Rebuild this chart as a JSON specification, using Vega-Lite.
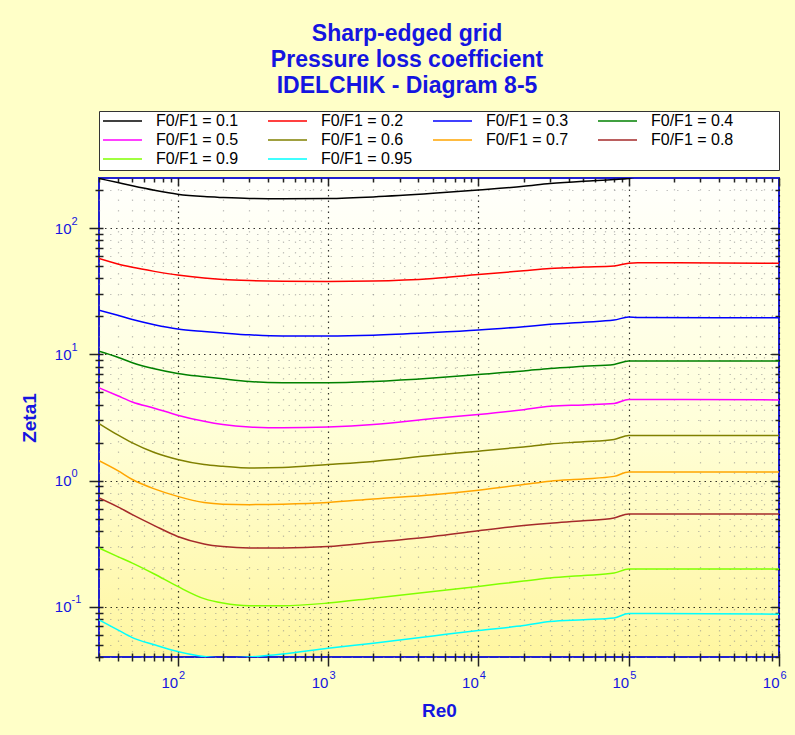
{
  "$schema": "https://vega.github.io/schema/vega-lite/v6.json",
  "width": 680,
  "height": 479,
  "autosize": {"type": "none"},
  "padding": {"left": 99, "top": 178, "right": 16, "bottom": 78},
  "background": "#FFFFC8",
  "title": {
    "text": ["Sharp-edged grid", "Pressure loss coefficient", "IDELCHIK - Diagram 8-5"],
    "font": "Liberation Sans", "fontSize": 23, "fontWeight": "bold", "color": "#1515E0",
    "anchor": "middle", "frame": "group", "dx": -32, "offset": 13, "lineHeight": 26
  },
  "data": {"values": [
    {"r":"F0/F1 = 0.1","Re":30,"z":248},{"r":"F0/F1 = 0.1","Re":40,"z":230},{"r":"F0/F1 = 0.1","Re":50,"z":217},{"r":"F0/F1 = 0.1","Re":70,"z":200},{"r":"F0/F1 = 0.1","Re":100,"z":186},{"r":"F0/F1 = 0.1","Re":150,"z":178},{"r":"F0/F1 = 0.1","Re":200,"z":175},{"r":"F0/F1 = 0.1","Re":300,"z":172},{"r":"F0/F1 = 0.1","Re":500,"z":171},{"r":"F0/F1 = 0.1","Re":1000,"z":172},{"r":"F0/F1 = 0.1","Re":2000,"z":177},{"r":"F0/F1 = 0.1","Re":5000,"z":189},{"r":"F0/F1 = 0.1","Re":10000,"z":201},{"r":"F0/F1 = 0.1","Re":20000,"z":215},{"r":"F0/F1 = 0.1","Re":30000,"z":226},{"r":"F0/F1 = 0.1","Re":50000,"z":236},{"r":"F0/F1 = 0.1","Re":80000,"z":243},{"r":"F0/F1 = 0.1","Re":100000,"z":248},{"r":"F0/F1 = 0.1","Re":115000,"z":256},{"r":"F0/F1 = 0.1","Re":1000000,"z":256},
    {"r":"F0/F1 = 0.2","Re":30,"z":57.5},{"r":"F0/F1 = 0.2","Re":40,"z":52},{"r":"F0/F1 = 0.2","Re":50,"z":49},{"r":"F0/F1 = 0.2","Re":70,"z":45.5},{"r":"F0/F1 = 0.2","Re":100,"z":42.5},{"r":"F0/F1 = 0.2","Re":150,"z":40.3},{"r":"F0/F1 = 0.2","Re":200,"z":39.3},{"r":"F0/F1 = 0.2","Re":300,"z":38.5},{"r":"F0/F1 = 0.2","Re":500,"z":38.0},{"r":"F0/F1 = 0.2","Re":1000,"z":37.8},{"r":"F0/F1 = 0.2","Re":2000,"z":38.1},{"r":"F0/F1 = 0.2","Re":5000,"z":39.9},{"r":"F0/F1 = 0.2","Re":10000,"z":42.9},{"r":"F0/F1 = 0.2","Re":20000,"z":46},{"r":"F0/F1 = 0.2","Re":30000,"z":47.9},{"r":"F0/F1 = 0.2","Re":50000,"z":49.2},{"r":"F0/F1 = 0.2","Re":80000,"z":50.2},{"r":"F0/F1 = 0.2","Re":100000,"z":52.8},{"r":"F0/F1 = 0.2","Re":115000,"z":53.3},{"r":"F0/F1 = 0.2","Re":1000000,"z":52.8},
    {"r":"F0/F1 = 0.3","Re":30,"z":22.4},{"r":"F0/F1 = 0.3","Re":40,"z":20.4},{"r":"F0/F1 = 0.3","Re":50,"z":18.9},{"r":"F0/F1 = 0.3","Re":70,"z":17.2},{"r":"F0/F1 = 0.3","Re":100,"z":15.9},{"r":"F0/F1 = 0.3","Re":150,"z":15.2},{"r":"F0/F1 = 0.3","Re":200,"z":14.8},{"r":"F0/F1 = 0.3","Re":300,"z":14.3},{"r":"F0/F1 = 0.3","Re":500,"z":14.0},{"r":"F0/F1 = 0.3","Re":1000,"z":14.0},{"r":"F0/F1 = 0.3","Re":2000,"z":14.2},{"r":"F0/F1 = 0.3","Re":5000,"z":14.9},{"r":"F0/F1 = 0.3","Re":10000,"z":15.6},{"r":"F0/F1 = 0.3","Re":20000,"z":16.6},{"r":"F0/F1 = 0.3","Re":30000,"z":17.3},{"r":"F0/F1 = 0.3","Re":50000,"z":18.0},{"r":"F0/F1 = 0.3","Re":80000,"z":18.7},{"r":"F0/F1 = 0.3","Re":100000,"z":19.8},{"r":"F0/F1 = 0.3","Re":115000,"z":19.6},{"r":"F0/F1 = 0.3","Re":1000000,"z":19.5},
    {"r":"F0/F1 = 0.4","Re":30,"z":10.6},{"r":"F0/F1 = 0.4","Re":40,"z":9.5},{"r":"F0/F1 = 0.4","Re":50,"z":8.6},{"r":"F0/F1 = 0.4","Re":70,"z":7.7},{"r":"F0/F1 = 0.4","Re":100,"z":7.07},{"r":"F0/F1 = 0.4","Re":150,"z":6.65},{"r":"F0/F1 = 0.4","Re":200,"z":6.4},{"r":"F0/F1 = 0.4","Re":300,"z":6.1},{"r":"F0/F1 = 0.4","Re":500,"z":5.97},{"r":"F0/F1 = 0.4","Re":1000,"z":5.96},{"r":"F0/F1 = 0.4","Re":2000,"z":6.1},{"r":"F0/F1 = 0.4","Re":5000,"z":6.5},{"r":"F0/F1 = 0.4","Re":10000,"z":6.94},{"r":"F0/F1 = 0.4","Re":20000,"z":7.4},{"r":"F0/F1 = 0.4","Re":30000,"z":7.74},{"r":"F0/F1 = 0.4","Re":50000,"z":8.05},{"r":"F0/F1 = 0.4","Re":80000,"z":8.33},{"r":"F0/F1 = 0.4","Re":100000,"z":8.85},{"r":"F0/F1 = 0.4","Re":1000000,"z":8.85},
    {"r":"F0/F1 = 0.5","Re":30,"z":5.44},{"r":"F0/F1 = 0.5","Re":40,"z":4.7},{"r":"F0/F1 = 0.5","Re":50,"z":4.2},{"r":"F0/F1 = 0.5","Re":70,"z":3.75},{"r":"F0/F1 = 0.5","Re":100,"z":3.3},{"r":"F0/F1 = 0.5","Re":150,"z":2.95},{"r":"F0/F1 = 0.5","Re":200,"z":2.78},{"r":"F0/F1 = 0.5","Re":300,"z":2.66},{"r":"F0/F1 = 0.5","Re":500,"z":2.62},{"r":"F0/F1 = 0.5","Re":1000,"z":2.66},{"r":"F0/F1 = 0.5","Re":2000,"z":2.78},{"r":"F0/F1 = 0.5","Re":5000,"z":3.1},{"r":"F0/F1 = 0.5","Re":10000,"z":3.34},{"r":"F0/F1 = 0.5","Re":20000,"z":3.65},{"r":"F0/F1 = 0.5","Re":30000,"z":3.89},{"r":"F0/F1 = 0.5","Re":50000,"z":3.98},{"r":"F0/F1 = 0.5","Re":80000,"z":4.08},{"r":"F0/F1 = 0.5","Re":100000,"z":4.39},{"r":"F0/F1 = 0.5","Re":1000000,"z":4.36},
    {"r":"F0/F1 = 0.6","Re":30,"z":2.83},{"r":"F0/F1 = 0.6","Re":40,"z":2.3},{"r":"F0/F1 = 0.6","Re":50,"z":1.99},{"r":"F0/F1 = 0.6","Re":70,"z":1.67},{"r":"F0/F1 = 0.6","Re":100,"z":1.47},{"r":"F0/F1 = 0.6","Re":150,"z":1.34},{"r":"F0/F1 = 0.6","Re":200,"z":1.3},{"r":"F0/F1 = 0.6","Re":300,"z":1.26},{"r":"F0/F1 = 0.6","Re":500,"z":1.27},{"r":"F0/F1 = 0.6","Re":1000,"z":1.34},{"r":"F0/F1 = 0.6","Re":2000,"z":1.42},{"r":"F0/F1 = 0.6","Re":5000,"z":1.59},{"r":"F0/F1 = 0.6","Re":10000,"z":1.71},{"r":"F0/F1 = 0.6","Re":20000,"z":1.85},{"r":"F0/F1 = 0.6","Re":30000,"z":1.95},{"r":"F0/F1 = 0.6","Re":50000,"z":2.03},{"r":"F0/F1 = 0.6","Re":80000,"z":2.12},{"r":"F0/F1 = 0.6","Re":100000,"z":2.28},{"r":"F0/F1 = 0.6","Re":1000000,"z":2.28},
    {"r":"F0/F1 = 0.7","Re":30,"z":1.44},{"r":"F0/F1 = 0.7","Re":40,"z":1.2},{"r":"F0/F1 = 0.7","Re":50,"z":1.02},{"r":"F0/F1 = 0.7","Re":70,"z":0.86},{"r":"F0/F1 = 0.7","Re":100,"z":0.75},{"r":"F0/F1 = 0.7","Re":150,"z":0.67},{"r":"F0/F1 = 0.7","Re":200,"z":0.65},{"r":"F0/F1 = 0.7","Re":300,"z":0.645},{"r":"F0/F1 = 0.7","Re":500,"z":0.65},{"r":"F0/F1 = 0.7","Re":1000,"z":0.67},{"r":"F0/F1 = 0.7","Re":2000,"z":0.716},{"r":"F0/F1 = 0.7","Re":5000,"z":0.774},{"r":"F0/F1 = 0.7","Re":10000,"z":0.84},{"r":"F0/F1 = 0.7","Re":20000,"z":0.93},{"r":"F0/F1 = 0.7","Re":30000,"z":0.99},{"r":"F0/F1 = 0.7","Re":50000,"z":1.03},{"r":"F0/F1 = 0.7","Re":80000,"z":1.08},{"r":"F0/F1 = 0.7","Re":100000,"z":1.17},{"r":"F0/F1 = 0.7","Re":1000000,"z":1.17},
    {"r":"F0/F1 = 0.8","Re":30,"z":0.73},{"r":"F0/F1 = 0.8","Re":40,"z":0.62},{"r":"F0/F1 = 0.8","Re":50,"z":0.537},{"r":"F0/F1 = 0.8","Re":70,"z":0.44},{"r":"F0/F1 = 0.8","Re":100,"z":0.361},{"r":"F0/F1 = 0.8","Re":150,"z":0.315},{"r":"F0/F1 = 0.8","Re":200,"z":0.30},{"r":"F0/F1 = 0.8","Re":300,"z":0.292},{"r":"F0/F1 = 0.8","Re":500,"z":0.292},{"r":"F0/F1 = 0.8","Re":1000,"z":0.30},{"r":"F0/F1 = 0.8","Re":2000,"z":0.324},{"r":"F0/F1 = 0.8","Re":5000,"z":0.361},{"r":"F0/F1 = 0.8","Re":10000,"z":0.40},{"r":"F0/F1 = 0.8","Re":20000,"z":0.44},{"r":"F0/F1 = 0.8","Re":30000,"z":0.46},{"r":"F0/F1 = 0.8","Re":50000,"z":0.48},{"r":"F0/F1 = 0.8","Re":80000,"z":0.506},{"r":"F0/F1 = 0.8","Re":100000,"z":0.544},{"r":"F0/F1 = 0.8","Re":1000000,"z":0.544},
    {"r":"F0/F1 = 0.9","Re":30,"z":0.292},{"r":"F0/F1 = 0.9","Re":40,"z":0.25},{"r":"F0/F1 = 0.9","Re":50,"z":0.222},{"r":"F0/F1 = 0.9","Re":70,"z":0.182},{"r":"F0/F1 = 0.9","Re":100,"z":0.145},{"r":"F0/F1 = 0.9","Re":150,"z":0.116},{"r":"F0/F1 = 0.9","Re":200,"z":0.107},{"r":"F0/F1 = 0.9","Re":300,"z":0.102},{"r":"F0/F1 = 0.9","Re":500,"z":0.102},{"r":"F0/F1 = 0.9","Re":1000,"z":0.107},{"r":"F0/F1 = 0.9","Re":2000,"z":0.117},{"r":"F0/F1 = 0.9","Re":5000,"z":0.132},{"r":"F0/F1 = 0.9","Re":10000,"z":0.145},{"r":"F0/F1 = 0.9","Re":20000,"z":0.16},{"r":"F0/F1 = 0.9","Re":30000,"z":0.169},{"r":"F0/F1 = 0.9","Re":50000,"z":0.177},{"r":"F0/F1 = 0.9","Re":80000,"z":0.185},{"r":"F0/F1 = 0.9","Re":100000,"z":0.199},{"r":"F0/F1 = 0.9","Re":1000000,"z":0.199},
    {"r":"F0/F1 = 0.95","Re":30,"z":0.0788},{"r":"F0/F1 = 0.95","Re":40,"z":0.0656},{"r":"F0/F1 = 0.95","Re":50,"z":0.0570},{"r":"F0/F1 = 0.95","Re":70,"z":0.0500},{"r":"F0/F1 = 0.95","Re":100,"z":0.0442},{"r":"F0/F1 = 0.95","Re":150,"z":0.0403},{"r":"F0/F1 = 0.95","Re":200,"z":0.0393},{"r":"F0/F1 = 0.95","Re":300,"z":0.0400},{"r":"F0/F1 = 0.95","Re":500,"z":0.0423},{"r":"F0/F1 = 0.95","Re":1000,"z":0.047},{"r":"F0/F1 = 0.95","Re":2000,"z":0.0515},{"r":"F0/F1 = 0.95","Re":5000,"z":0.0588},{"r":"F0/F1 = 0.95","Re":10000,"z":0.0649},{"r":"F0/F1 = 0.95","Re":20000,"z":0.071},{"r":"F0/F1 = 0.95","Re":30000,"z":0.0764},{"r":"F0/F1 = 0.95","Re":50000,"z":0.079},{"r":"F0/F1 = 0.95","Re":80000,"z":0.0814},{"r":"F0/F1 = 0.95","Re":100000,"z":0.0885},{"r":"F0/F1 = 0.95","Re":1000000,"z":0.0874}
  ]},
  "layer": [
    {
      "mark": {"type": "line", "strokeWidth": 1.5, "clip": true, "interpolate": "monotone"},
      "encoding": {
        "x": {
          "field": "Re", "type": "quantitative",
          "scale": {"type": "log", "domain": [30, 1000000], "nice": false},
          "axis": {
            "orient": "bottom",
            "values": [30,40,50,60,70,80,90,100,200,300,400,500,600,700,800,900,1000,2000,3000,4000,5000,6000,7000,8000,9000,10000,20000,30000,40000,50000,60000,70000,80000,90000,100000,200000,300000,400000,500000,600000,700000,800000,900000,1000000],
            "offset": -4,
            "domain": false,
            "tickColor": "#222", "tickWidth": 1.5,
            "tickSize": {"condition": {"test": "abs(log(datum.value)/LN10 - round(log(datum.value)/LN10)) < 0.001", "value": 13}, "value": 8},
            "grid": true,
            "gridColor": {"condition": {"test": "abs(log(datum.value)/LN10 - round(log(datum.value)/LN10)) < 0.001", "value": "#000000"}, "value": "#888888"},
            "gridDash": {"condition": {"test": "abs(log(datum.value)/LN10 - round(log(datum.value)/LN10)) < 0.001", "value": [1.5, 4]}, "value": [1.5, 9]},
            "gridWidth": 1.2,
            "gridOpacity": {"condition": {"test": "abs(log(datum.value)/LN10 - round(log(datum.value)/LN10)) < 0.001", "value": 0.8}, "value": 0.5},
            "labelExpr": "abs(log(datum.value)/LN10 - round(log(datum.value)/LN10)) > 0.001 ? '' : '10'",
            "labelFont": "Liberation Sans", "labelFontSize": 15, "labelColor": "#1515E0",
            "labelAlign": "right", "labelOffset": 0,
            "labelPadding": 9, "labelOverlap": false, "labelFlush": false,
            "title": "Re0", "titleFont": "Liberation Sans", "titleFontSize": 19, "titleFontWeight": "bold", "titleColor": "#1515E0", "titlePadding": 11
          }
        },
        "y": {
          "field": "z", "type": "quantitative",
          "scale": {"type": "log", "domain": [0.04, 250], "nice": false},
          "axis": {
            "orient": "left",
            "values": [0.04,0.05,0.06,0.07,0.08,0.09,0.1,0.2,0.3,0.4,0.5,0.6,0.7,0.8,0.9,1,2,3,4,5,6,7,8,9,10,20,30,40,50,60,70,80,90,100,200],
            "offset": -4,
            "domain": false,
            "tickColor": "#222", "tickWidth": 1.5,
            "tickSize": {"condition": {"test": "abs(log(datum.value)/LN10 - round(log(datum.value)/LN10)) < 0.001", "value": 14}, "value": 8},
            "grid": true,
            "gridColor": {"condition": {"test": "abs(log(datum.value)/LN10 - round(log(datum.value)/LN10)) < 0.001", "value": "#000000"}, "value": "#888888"},
            "gridDash": {"condition": {"test": "abs(log(datum.value)/LN10 - round(log(datum.value)/LN10)) < 0.001", "value": [1.5, 4]}, "value": [1.5, 9]},
            "gridWidth": 1.2,
            "gridOpacity": {"condition": {"test": "abs(log(datum.value)/LN10 - round(log(datum.value)/LN10)) < 0.001", "value": 0.8}, "value": 0.5},
            "labelExpr": "abs(log(datum.value)/LN10 - round(log(datum.value)/LN10)) > 0.001 ? '' : '10'",
            "labelFont": "Liberation Sans", "labelFontSize": 15, "labelColor": "#1515E0",
            "labelAlign": "right",
            "labelPadding": 18, "labelOverlap": false,
            "title": "Zeta1", "titleFont": "Liberation Sans", "titleFontSize": 19, "titleFontWeight": "bold", "titleColor": "#1515E0", "titlePadding": 15
          }
        },
        "color": {
          "field": "r", "type": "nominal",
          "scale": {
            "domain": ["F0/F1 = 0.1","F0/F1 = 0.2","F0/F1 = 0.3","F0/F1 = 0.4","F0/F1 = 0.5","F0/F1 = 0.6","F0/F1 = 0.7","F0/F1 = 0.8","F0/F1 = 0.9","F0/F1 = 0.95"],
            "range": ["#000000","#FF0000","#0000FF","#008000","#FF00FF","#808000","#FFA500","#A52A2A","#80FF00","#00FFFF"]
          },
          "legend": {
            "title": " ", "titleOrient": "right", "titlePadding": 43, "titleFontSize": 2,
            "orient": "top", "columns": 4, "direction": "horizontal",
            "symbolType": "stroke", "symbolSize": 1521, "symbolStrokeWidth": 1.5,
            "clipHeight": 14, "rowPadding": 3, "columnPadding": 19, "gridAlign": "all",
            "labelFont": "Liberation Sans", "labelFontSize": 16, "labelColor": "#000000", "labelOffset": 13,
            "padding": 3, "strokeColor": "#333333", "fillColor": "#FFFFFF", "offset": 6
          }
        }
      }
    },
    {
      "mark": {"type": "line", "opacity": 0},
      "encoding": {
        "detail": {"field": "r"},
        "x": {
          "field": "Re", "type": "quantitative",
          "axis": {
            "orient": "top",
            "values": [30,40,50,60,70,80,90,100,200,300,400,500,600,700,800,900,1000,2000,3000,4000,5000,6000,7000,8000,9000,10000,20000,30000,40000,50000,60000,70000,80000,90000,100000,200000,300000,400000,500000,600000,700000,800000,900000,1000000],
            "domain": false, "labels": false, "grid": false, "title": null,
            "tickColor": "#222", "tickWidth": 1.5,
            "tickSize": {"condition": {"test": "abs(log(datum.value)/LN10 - round(log(datum.value)/LN10)) < 0.001", "value": -8}, "value": -4}
          }
        },
        "y": {
          "field": "z", "type": "quantitative",
          "axis": {
            "orient": "right",
            "values": [0.04,0.05,0.06,0.07,0.08,0.09,0.1,0.2,0.3,0.4,0.5,0.6,0.7,0.8,0.9,1,2,3,4,5,6,7,8,9,10,20,30,40,50,60,70,80,90,100,200],
            "domain": false, "labels": false, "grid": false, "title": null,
            "tickColor": "#222", "tickWidth": 1.5,
            "tickSize": {"condition": {"test": "abs(log(datum.value)/LN10 - round(log(datum.value)/LN10)) < 0.001", "value": -8}, "value": -4}
          }
        }
      }
    },
    {
      "mark": {"type": "line", "opacity": 0},
      "encoding": {
        "detail": {"field": "r"},
        "x": {
          "field": "Re", "type": "quantitative",
          "axis": {
            "orient": "bottom", "offset": -4,
            "values": [100,1000,10000,100000,1000000],
            "domain": false, "ticks": false, "tickSize": 0, "grid": false, "title": null,
            "labelExpr": "'' + round(log(datum.value)/LN10)",
            "labelFont": "Liberation Sans", "labelFontSize": 11, "labelColor": "#1515E0",
            "labelAlign": "left", "labelOffset": 1, "labelPadding": 16, "labelOverlap": false, "labelFlush": false
          }
        },
        "y": {
          "field": "z", "type": "quantitative",
          "axis": {
            "orient": "left", "offset": -4,
            "values": [0.1,1,10,100],
            "domain": false, "ticks": false, "tickSize": 0, "grid": false, "title": null,
            "labelExpr": "'' + round(log(datum.value)/LN10)",
            "labelFont": "Liberation Sans", "labelFontSize": 11, "labelColor": "#1515E0",
            "labelAlign": "left", "labelOffset": -7, "labelPadding": 32, "labelOverlap": false, "labelFlush": false
          }
        }
      }
    }
  ],
  "resolve": {"axis": {"x": "independent", "y": "independent"}},
  "config": {
    "view": {
      "stroke": "#2020D0", "strokeWidth": 2,
      "fill": {"gradient": "linear", "x1": 0, "y1": 0, "x2": 0, "y2": 1, "stops": [{"offset": 0, "color": "#FFFFFC"}, {"offset": 0.5, "color": "#FFFFDA"}, {"offset": 1, "color": "#FFF6A0"}]}
    }
  }
}
